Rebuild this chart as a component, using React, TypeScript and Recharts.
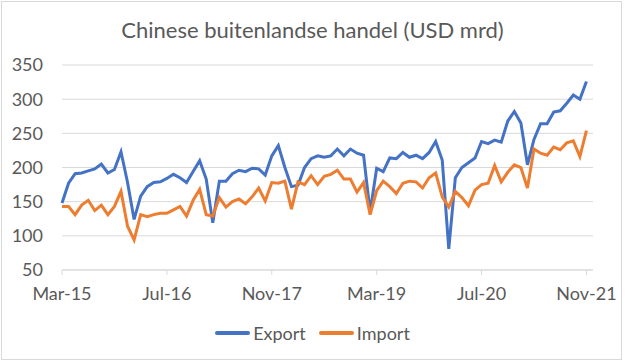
import React from 'react';
import { LineChart, Line, XAxis, YAxis, CartesianGrid, Legend } from 'recharts';

const FONT = 'Lato, "Open Sans", sans-serif';
const TEXT = '#595959';
const GRID = '#d9d9d9';

const title = 'Chinese buitenlandse handel (USD mrd)';
const seriesNames = ['Export', 'Import'];
const seriesColors = ['#4472C4', '#ED7D31'];

const monthNames = ['Jan', 'Feb', 'Mar', 'Apr', 'May', 'Jun', 'Jul', 'Aug', 'Sep', 'Oct', 'Nov', 'Dec'];
const startYear = 2015;
const startMonth = 2; // March

const exportValues = [
  // 2015 Mar-Dec
  148, 177, 191, 192, 195, 198, 205, 192, 197, 223,
  // 2016
  178, 124, 158, 172, 178, 179, 184, 190, 185, 178, 194, 210,
  // 2017
  183, 119, 180, 180, 191, 196, 194, 199, 198, 189, 217, 232,
  // 2018
  200, 172, 174, 200, 213, 217, 215, 217, 227, 217, 227, 221,
  // 2019
  218, 135, 199, 194, 214, 213, 222, 215, 218, 213, 222, 238,
  // 2020
  211, 81, 185, 200, 207, 214, 238, 235, 240, 237, 268, 282,
  // 2021 Jan-Nov
  265, 204, 241, 264, 264, 281, 283, 294, 306, 300, 326,
];

const importValues = [
  // 2015 Mar-Dec
  143, 143, 131, 145, 152, 137, 145, 131, 143, 165,
  // 2016
  114, 94, 131, 128, 131, 133, 133, 138, 143, 129, 152, 168,
  // 2017
  131, 129, 156, 142, 150, 154, 147, 157, 170, 151, 178, 177,
  // 2018
  180, 139, 179, 175, 188, 175, 187, 190, 196, 183, 183, 164,
  // 2019
  178, 131, 166, 180, 172, 162, 177, 180, 179, 170, 185, 192,
  // 2020
  157, 142, 165, 156, 144, 167, 175, 177, 203, 179, 193, 204,
  // 2021 Jan-Nov
  200, 170, 227, 221, 218, 230, 226, 236, 239, 216, 254,
];

const xTickIndex = [0, 16, 32, 48, 64, 80];
const xTickLabels = ['Mar-15', 'Jul-16', 'Nov-17', 'Mar-19', 'Jul-20', 'Nov-21'];
const yTicks = [50, 100, 150, 200, 250, 300, 350];

const data = exportValues.map((v, i) => {
  const m = startMonth + i;
  const label = monthNames[m % 12] + '-' + String((startYear + Math.floor(m / 12)) % 100).padStart(2, '0');
  return { idx: i, month: label, Export: v, Import: importValues[i] };
});

const renderLegend = () => (
  <div style={{ display: 'flex', justifyContent: 'center', alignItems: 'center', fontFamily: FONT, fontSize: 18, color: TEXT, lineHeight: '22px' }}>
    {seriesNames.map((name, i) => (
      <div key={name} style={{ display: 'flex', alignItems: 'center', marginRight: i === 0 ? 13 : 0 }}>
        <div style={{ width: 35, height: 4, background: seriesColors[i], borderRadius: 2, marginRight: 3 }} />
        <span>{name}</span>
      </div>
    ))}
  </div>
);

export default function App() {
  return (
    <div style={{ position: 'absolute', left: 0, top: 0, width: 625, height: 363, background: '#fff', overflow: 'hidden' }}>
      <div style={{ position: 'absolute', left: 1, top: 1, width: 619, height: 357, border: '1px solid ' + GRID }} />
      <div style={{ position: 'absolute', left: 0, top: 16, width: 625, textAlign: 'center', fontFamily: FONT, fontSize: 22, color: TEXT, lineHeight: '28px' }}>
        {title}
      </div>
      <div style={{ position: 'absolute', left: 0, top: 0 }}>
        <LineChart width={625} height={363} data={data} margin={{ top: 65, right: 32, bottom: 63, left: 0 }}>
          <CartesianGrid horizontal vertical={false} stroke={GRID} strokeWidth={1} />
          <XAxis
            dataKey="idx"
            type="number"
            domain={[0, 81]}
            ticks={xTickIndex}
            tickFormatter={(v: number) => xTickLabels[xTickIndex.indexOf(v)] ?? ''}
            allowDecimals={false}
            height={30}
            stroke={GRID}
            tickSize={5}
            tickMargin={12}
            tick={{ fill: TEXT, fontSize: 18, fontFamily: FONT }}
            interval={0}
          />
          <YAxis
            type="number"
            domain={[50, 350]}
            ticks={yTicks}
            width={62}
            axisLine={false}
            tickLine={false}
            tickSize={0}
            tickMargin={19}
            tick={{ fill: TEXT, fontSize: 18, fontFamily: FONT }}
            interval={0}
          />
          <Legend
            layout="horizontal"
            verticalAlign="middle"
            align="center"
            wrapperStyle={{ top: 322, left: 0, width: 625 }}
            content={renderLegend}
          />
          <Line type="linear" dataKey="Export" stroke={seriesColors[0]} strokeWidth={3} dot={false} isAnimationActive={false} />
          <Line type="linear" dataKey="Import" stroke={seriesColors[1]} strokeWidth={3} dot={false} isAnimationActive={false} />
        </LineChart>
      </div>
    </div>
  );
}
